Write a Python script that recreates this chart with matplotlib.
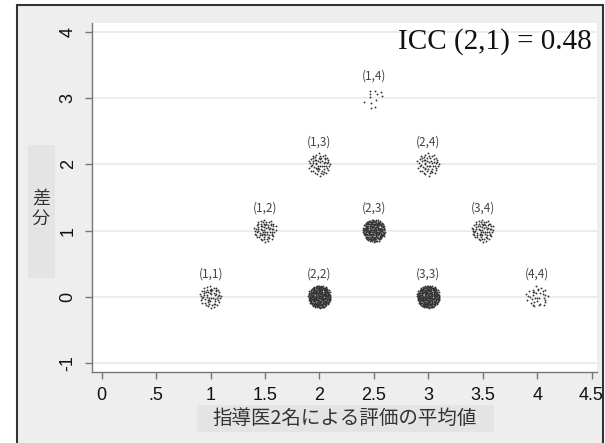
import numpy as np
import matplotlib
matplotlib.use("Agg")
import matplotlib.pyplot as plt
from matplotlib.patches import Rectangle

# ---- data ----
pair_labels = ["(1,1)", "(1,2)", "(1,3)", "(1,4)", "(2,2)",
               "(2,3)", "(2,4)", "(3,3)", "(3,4)", "(4,4)"]
mean_vals = [1.0, 1.5, 2.0, 2.5, 2.0, 2.5, 3.0, 3.0, 3.5, 4.0]
diff_vals = [0, 1, 2, 3, 0, 1, 2, 0, 1, 0]
pair_counts = [60, 70, 60, 12, 270, 220, 55, 270, 70, 35]
x_ticks = [0, 0.5, 1, 1.5, 2, 2.5, 3, 3.5, 4, 4.5]
x_ticklabels = ["0", ".5", "1", "1.5", "2", "2.5", "3", "3.5", "4", "4.5"]
y_ticks = [-1, 0, 1, 2, 3, 4]
icc_text = "ICC (2,1) = 0.48"
x_title = "指導医2名による評価の平均値"
y_title = ["差", "分"]

W, H = 605, 443
fig = plt.figure(figsize=(W / 100, H / 100), dpi=100)
fig.patch.set_facecolor("white")

def fx(px):
    return px / W

def fy(py):
    return 1 - py / H

# outer gray panel with dark border
fig.patches.append(Rectangle((fx(17), fy(460)), fx(603) - fx(17), fy(5) - fy(460),
                             transform=fig.transFigure, facecolor="#eeeeee",
                             edgecolor="#333333", linewidth=1.5, zorder=0))
# label boxes
fig.patches.append(Rectangle((fx(28), fy(278)), fx(55) - fx(28), fy(145) - fy(278),
                             transform=fig.transFigure, facecolor="#e4e4e4",
                             edgecolor="none", zorder=1))
fig.patches.append(Rectangle((fx(197), fy(432)), fx(494) - fx(197), fy(405) - fy(432),
                             transform=fig.transFigure, facecolor="#e4e4e4",
                             edgecolor="none", zorder=1))

ax = fig.add_axes([fx(92), fy(372), fx(597) - fx(92), fy(23) - fy(372)])
ax.set_zorder(5)
ax.set_facecolor("white")
ax.set_xlim(-0.09, 4.55)
ax.set_ylim(-1.14, 4.14)

# deterministic jitter (Halton sequence in a disk) -- display only
def halton(i, b):
    f, r = 1.0, 0.0
    while i > 0:
        f /= b
        r += f * (i % b)
        i //= b
    return r

rx, ry = 0.105, 0.172
for cx, cy, n, lab in zip(mean_vals, diff_vals, pair_counts, pair_labels):
    idx = np.arange(1, n + 1)
    u = np.array([halton(i, 2) for i in idx])
    v = np.array([halton(i, 3) for i in idx])
    r = np.sqrt(u)
    th = 2 * np.pi * v
    ax.scatter(cx + rx * r * np.cos(th), cy + ry * r * np.sin(th),
               s=1.8, color="#333333", linewidths=0, zorder=3)
    ax.text(cx, cy + 0.34, lab, ha="center", va="center", fontsize=8.5,
            color="#444444", family=["Noto Sans CJK JP", "DejaVu Sans"], zorder=4)

ax.set_xticks(x_ticks)
ax.set_xticklabels(x_ticklabels)
ax.set_yticks(y_ticks)
ax.set_yticklabels([str(t) for t in y_ticks], rotation=90, va="center")
for lbl in ax.get_xticklabels() + ax.get_yticklabels():
    lbl.set_family("Liberation Sans")
    lbl.set_fontsize(13)
    lbl.set_color("#111111")
ax.tick_params(axis="both", direction="out", length=5, width=1, color="#777777")
ax.tick_params(axis="x", pad=6)
ax.tick_params(axis="y", pad=6)

ax.grid(axis="y", color="#eaeaea", linewidth=1.2, zorder=0)
ax.set_axisbelow(True)
for s in ["top", "right"]:
    ax.spines[s].set_visible(False)
for s in ["left", "bottom"]:
    ax.spines[s].set_color("#777777")
    ax.spines[s].set_linewidth(1)

ax.text(0.99, 0.985, icc_text, transform=ax.transAxes, ha="right", va="top",
        fontsize=21, family="Liberation Serif", color="#111111")

fig.text(fx(345), fy(418), x_title, ha="center", va="center", fontsize=14,
         family=["Noto Sans CJK JP", "DejaVu Sans"], color="#333333", zorder=2)
fig.text(fx(41), fy(199), y_title[0], ha="center", va="center", fontsize=13,
         family=["Noto Sans CJK JP", "DejaVu Sans"], color="#333333", zorder=2)
fig.text(fx(41), fy(219), y_title[1], ha="center", va="center", fontsize=13,
         family=["Noto Sans CJK JP", "DejaVu Sans"], color="#333333", zorder=2)

fig.savefig("out.png", dpi=100, facecolor=fig.get_facecolor())
